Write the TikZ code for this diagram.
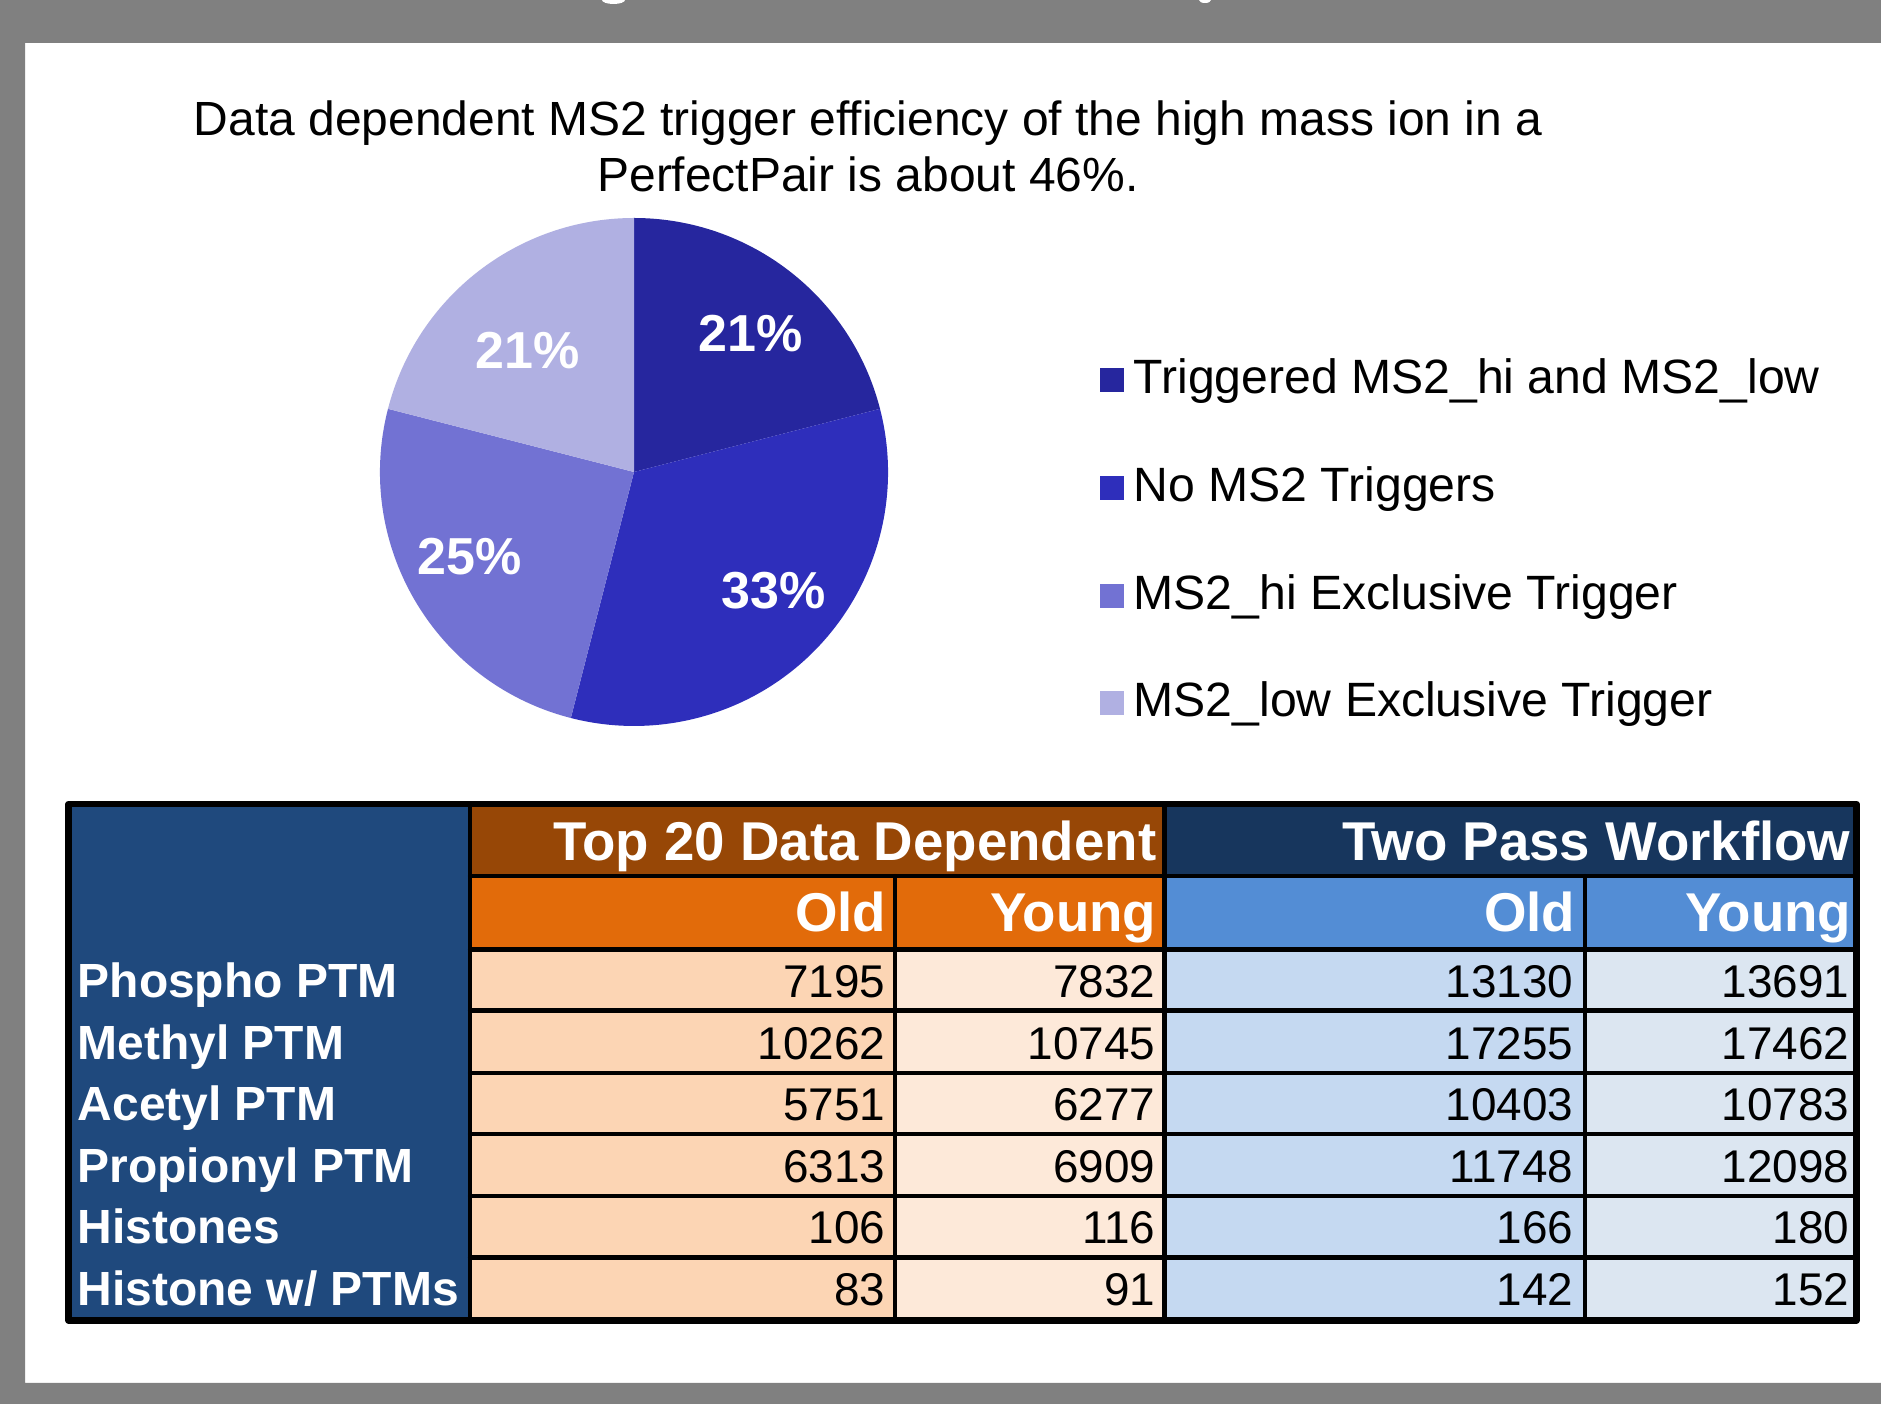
\documentclass[tikz,border=0pt]{standalone}
\usepackage{amsmath}
\usepackage{fontspec}
\setmainfont{Liberation Sans}
\usepackage{pgf,tikz}
\usetikzlibrary{arrows}
\definecolor{oqoqoq}{rgb}{0.5019607843137255,0.5019607843137255,0.5019607843137255}
\definecolor{eueupe}{rgb}{0.14901960784313725,0.14901960784313725,0.6196078431372549}
\definecolor{eeeebb}{rgb}{0.1803921568627451,0.1803921568627451,0.7333333333333333}
\definecolor{ieiedr}{rgb}{0.4470588235294118,0.4470588235294118,0.8274509803921568}
\definecolor{bqbqee}{rgb}{0.6901960784313725,0.6901960784313725,0.8862745098039215}
\definecolor{wftpid}{rgb}{0.12156862745098039,0.28627450980392155,0.49019607843137253}
\definecolor{pitiqu}{rgb}{0.592156862745098,0.2784313725490196,0.023529411764705882}
\definecolor{eeubqa}{rgb}{0.8862745098039215,0.4196078431372549,0.0392156862745098}
\definecolor{wiruzd}{rgb}{0.09019607843137255,0.21176470588235294,0.36470588235294116}
\definecolor{zroddz}{rgb}{0.3254901960784314,0.5529411764705883,0.8352941176470589}
\definecolor{fcdzbt}{rgb}{0.9882352941176471,0.8352941176470589,0.7058823529411765}
\definecolor{fdepdp}{rgb}{0.9921568627450981,0.9137254901960784,0.8509803921568627}
\definecolor{czdpfw}{rgb}{0.7725490196078432,0.8509803921568627,0.9450980392156862}
\definecolor{dceufw}{rgb}{0.8627450980392157,0.9019607843137255,0.9450980392156862}

\begin{document}
\begin{tikzpicture}[line cap=round,line join=round,>=triangle 45,x=1cm,y=1cm,
  titletext/.style={inner sep=0pt,font=\fontsize{13.65}{16}\selectfont},
  pielabel/.style={inner sep=0pt,text=white,font=\fontsize{14.8}{17}\selectfont\bfseries},
  legendtext/.style={inner sep=0pt,anchor=base west,font=\fontsize{13.7}{16}\selectfont},
  headtext/.style={inner sep=0pt,anchor=base east,text=white,font=\fontsize{15.55}{18}\selectfont\bfseries},
  rowlabel/.style={inner sep=0pt,anchor=base west,text=white,font=\fontsize{13.65}{16}\selectfont\bfseries},
  numtext/.style={inner sep=0pt,anchor=base east,font=\fontsize{13.05}{15}\selectfont}]
			\useasboundingbox (0.,0.) rectangle (18.81,-14.04);
			\fill[color=white] (0.,0.) rectangle (18.81,-14.04);
			% frame
			\fill[color=oqoqoq,fill=oqoqoq] (0.,0.) -- (18.81,0.) -- (18.81,-0.43) -- (0.25,-0.43) -- (0.25,-13.83) -- (18.81,-13.83) -- (18.81,-14.04) -- (0.,-14.04) -- cycle;
			\fill[color=white] (6.135,0.) ellipse (0.115 and 0.04);
			\fill[color=white] (12.05,0.) ellipse (0.06 and 0.03);
			% title
			\draw (8.68,-1.36) node[titletext,anchor=base] (title1) {Data dependent MS2 trigger efficiency of the high mass ion in a};
			\draw (8.68,-1.92) node[titletext,anchor=base] (title2) {PerfectPair is about 46\%.};
			% pie
			\fill[color=eueupe,fill=eueupe] (6.34,-4.72) -- ++(90:2.54) arc (90:14.4:2.54) -- cycle;
			\fill[color=eeeebb,fill=eeeebb] (6.34,-4.72) -- ++(14.4:2.54) arc (14.4:-104.4:2.54) -- cycle;
			\fill[color=ieiedr,fill=ieiedr] (6.34,-4.72) -- ++(-104.4:2.54) arc (-104.4:-194.4:2.54) -- cycle;
			\fill[color=bqbqee,fill=bqbqee] (6.34,-4.72) -- ++(165.6:2.54) arc (165.6:90:2.54) -- cycle;
			\draw (7.51,-3.52) node[pielabel,anchor=base] (p1) {21\%};
			\draw (7.74,-6.09) node[pielabel,anchor=base] (p2) {33\%};
			\draw (4.70,-5.75) node[pielabel,anchor=base] (p3) {25\%};
			\draw (5.28,-3.69) node[pielabel,anchor=base] (p4) {21\%};
			% legend
			\fill[color=eueupe,fill=eueupe] (11.,-3.68) rectangle (11.24,-3.92);
			\fill[color=eeeebb,fill=eeeebb] (11.,-4.76) rectangle (11.24,-5.);
			\fill[color=ieiedr,fill=ieiedr] (11.,-5.84) rectangle (11.24,-6.08);
			\fill[color=bqbqee,fill=bqbqee] (11.,-6.91) rectangle (11.24,-7.15);
			\draw (11.33,-3.94) node[legendtext] (l1) {Triggered MS2\_hi and MS2\_low};
			\draw (11.33,-5.02) node[legendtext] (l2) {No MS2 Triggers};
			\draw (11.33,-6.10) node[legendtext] (l3) {MS2\_hi Exclusive Trigger};
			\draw (11.33,-7.17) node[legendtext] (l4) {MS2\_low Exclusive Trigger};
			% table cells
			\fill[color=wftpid,fill=wftpid] (0.685,-8.04) rectangle (4.70,-13.205);
			\fill[color=pitiqu,fill=pitiqu] (4.70,-8.04) rectangle (11.645,-8.76);
			\fill[color=wiruzd,fill=wiruzd] (11.645,-8.04) rectangle (18.565,-8.76);
			\fill[color=eeubqa,fill=eeubqa] (4.70,-8.76) rectangle (11.645,-9.495);
			\fill[color=zroddz,fill=zroddz] (11.645,-8.76) rectangle (18.565,-9.495);
			\fill[color=fcdzbt,fill=fcdzbt] (4.70,-9.495) rectangle (8.95,-13.205);
			\fill[color=fdepdp,fill=fdepdp] (8.95,-9.495) rectangle (11.645,-13.205);
			\fill[color=czdpfw,fill=czdpfw] (11.645,-9.495) rectangle (15.85,-13.205);
			\fill[color=dceufw,fill=dceufw] (15.85,-9.495) rectangle (18.565,-13.205);
			% table lines
			\draw [color=black,line width=1.15pt] (4.70,-8.76)-- (18.565,-8.76);
			\draw [color=black,line width=1.15pt] (4.70,-9.495)-- (18.565,-9.495);
			\draw [color=black,line width=1.15pt] (4.70,-10.105)-- (18.565,-10.105);
			\draw [color=black,line width=1.15pt] (4.70,-10.73)-- (18.565,-10.73);
			\draw [color=black,line width=1.15pt] (4.70,-11.34)-- (18.565,-11.34);
			\draw [color=black,line width=1.15pt] (4.70,-11.96)-- (18.565,-11.96);
			\draw [color=black,line width=1.15pt] (4.70,-12.575)-- (18.565,-12.575);
			\draw [color=black,line width=1.15pt] (4.70,-8.04)-- (4.70,-13.205);
			\draw [color=black,line width=1.15pt] (8.95,-8.76)-- (8.95,-13.205);
			\draw [color=black,line width=1.15pt] (11.645,-8.04)-- (11.645,-13.205);
			\draw [color=black,line width=1.15pt] (15.85,-8.76)-- (15.85,-13.205);
			\draw [color=black,line width=1.75pt,line cap=rect] (0.685,-8.04) rectangle (18.565,-13.205);
			% table text
			\draw (11.57,-8.61) node[headtext] (h1) {Top 20 Data Dependent};
			\draw (18.51,-8.61) node[headtext] (h2) {Two Pass Workflow};
			\draw (8.87,-9.32) node[headtext] (s1) {Old};
			\draw (11.57,-9.32) node[headtext] (s2) {Young};
			\draw (15.76,-9.32) node[headtext] (s3) {Old};
			\draw (18.52,-9.32) node[headtext] (s4) {Young};
			\draw (0.77,-9.98) node[rowlabel] (r1) {Phospho PTM};
			\draw (0.77,-10.60) node[rowlabel] (r2) {Methyl PTM};
			\draw (0.77,-11.21) node[rowlabel] (r3) {Acetyl PTM};
			\draw (0.77,-11.83) node[rowlabel] (r4) {Propionyl PTM};
			\draw (0.77,-12.44) node[rowlabel] (r5) {Histones};
			\draw (0.77,-13.06) node[rowlabel] (r6) {Histone w/ PTMs};
			\draw (8.86,-9.98) node[numtext] (a1) {7195};
			\draw (8.86,-10.60) node[numtext] (a2) {10262};
			\draw (8.86,-11.21) node[numtext] (a3) {5751};
			\draw (8.86,-11.83) node[numtext] (a4) {6313};
			\draw (8.86,-12.44) node[numtext] (a5) {106};
			\draw (8.86,-13.06) node[numtext] (a6) {83};
			\draw (11.56,-9.98) node[numtext] (b1) {7832};
			\draw (11.56,-10.60) node[numtext] (b2) {10745};
			\draw (11.56,-11.21) node[numtext] (b3) {6277};
			\draw (11.56,-11.83) node[numtext] (b4) {6909};
			\draw (11.56,-12.44) node[numtext] (b5) {116};
			\draw (11.56,-13.06) node[numtext] (b6) {91};
			\draw (15.74,-9.98) node[numtext] (c1) {13130};
			\draw (15.74,-10.60) node[numtext] (c2) {17255};
			\draw (15.74,-11.21) node[numtext] (c3) {10403};
			\draw (15.74,-11.83) node[numtext] (c4) {11748};
			\draw (15.74,-12.44) node[numtext] (c5) {166};
			\draw (15.74,-13.06) node[numtext] (c6) {142};
			\draw (18.50,-9.98) node[numtext] (d1) {13691};
			\draw (18.50,-10.60) node[numtext] (d2) {17462};
			\draw (18.50,-11.21) node[numtext] (d3) {10783};
			\draw (18.50,-11.83) node[numtext] (d4) {12098};
			\draw (18.50,-12.44) node[numtext] (d5) {180};
			\draw (18.50,-13.06) node[numtext] (d6) {152};
			\end{tikzpicture}
\end{document}
